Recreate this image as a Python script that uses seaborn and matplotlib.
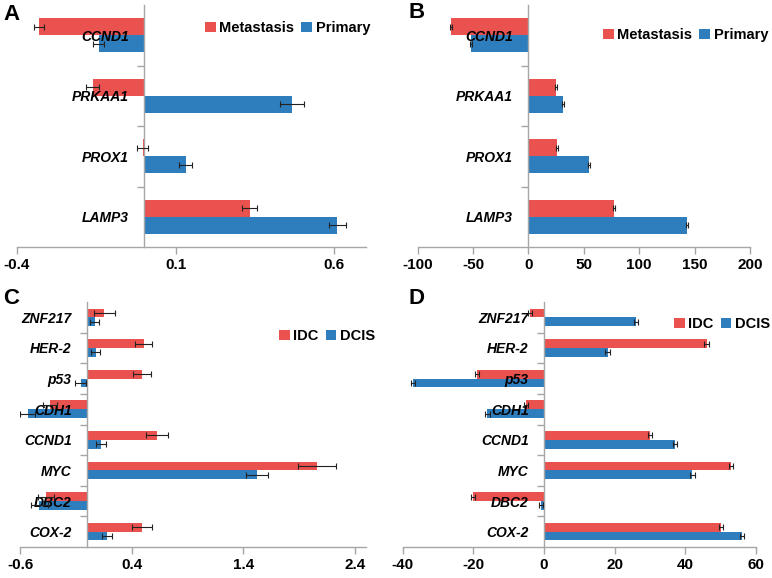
import pandas as pd
import seaborn as sns
import matplotlib.pyplot as plt
from matplotlib.ticker import FixedLocator

# ---- data ----
genes_ab = ['CCND1', 'PRKAA1', 'PROX1', 'LAMP3']
groups_ab = ['Metastasis', 'Primary']

a_met = [-0.33, -0.162, -0.004, 0.334]
a_met_err = [0.015, 0.019, 0.018, 0.024]
a_pri = [-0.142, 0.468, 0.132, 0.609]
a_pri_err = [0.017, 0.038, 0.020, 0.027]

b_met = [-70, 25, 26, 77]
b_met_err = [1.0, 1.0, 1.0, 1.0]
b_pri = [-52, 31, 55, 143]
b_pri_err = [1.0, 1.0, 1.0, 1.0]

genes_cd = ['ZNF217', 'HER-2', 'p53', 'CDH1', 'CCND1', 'MYC', 'DBC2', 'COX-2']
groups_cd = ['IDC', 'DCIS']

c_idc = [0.154, 0.507, 0.495, -0.331, 0.627, 2.058, -0.367, 0.495]
c_idc_err = [0.094, 0.078, 0.082, 0.06, 0.099, 0.171, 0.07, 0.088]
c_dcis = [0.07, 0.079, -0.056, -0.531, 0.127, 1.525, -0.427, 0.181]
c_dcis_err = [0.04, 0.04, 0.048, 0.067, 0.042, 0.097, 0.075, 0.045]

d_idc = [-4, 46, -19, -5, 30, 53, -20, 50]
d_idc_err = [0.6] * 8
d_dcis = [26, 18, -37, -16, 37, 42, -0.8, 56]
d_dcis_err = [0.6] * 8

RED = '#E9524F'
BLUE = '#2E7EBD'
GREY = '#A6A6A6'

sns.set_theme(style='white')
plt.rcParams['font.family'] = ['Liberation Sans', 'DejaVu Sans']
plt.rcParams['text.color'] = 'black'

W, H = 772, 578
fig = plt.figure(figsize=(W / 100, H / 100), dpi=100)


def px_axes(left, right, top, bottom):
    return fig.add_axes([left / W, 1 - bottom / H, (right - left) / W, (bottom - top) / H])


def panel(ax, genes, groups, v1, e1, v2, e2, xlim, xticks, ticklabels, legend_xy, letter_xy, letter):
    df = pd.DataFrame({
        'gene': genes * 2,
        'group': [groups[0]] * len(genes) + [groups[1]] * len(genes),
        'value': list(v1) + list(v2),
    })
    sns.barplot(data=df, x='value', y='gene', hue='group', hue_order=groups,
                order=genes, palette=[RED, BLUE], orient='h', width=0.57,
                errorbar=None, saturation=1, linewidth=0, ax=ax)

    # error bars at the bar ends
    for cont, errs in zip(ax.containers, [e1, e2]):
        ys = [b.get_y() + b.get_height() / 2 for b in cont]
        xs = [b.get_x() + b.get_width() for b in cont]
        ax.errorbar(xs, ys, xerr=errs, fmt='none', ecolor='#222222',
                    elinewidth=0.8, capsize=2, capthick=0.8, zorder=3)

    ax.set_axisbelow(False)  # gene names sit on top of the bars
    ax.set_xlim(*xlim)
    ax.set_ylim(len(genes) - 0.5, -0.5)
    ax.set_xticks(xticks)
    ax.set_xticklabels(ticklabels, fontsize=11, fontweight='bold')
    ax.set_xlabel('')
    ax.set_ylabel('')

    for s in ['top', 'right']:
        ax.spines[s].set_visible(False)
    ax.spines['left'].set_position(('data', 0))
    ax.spines['left'].set_color(GREY)
    ax.spines['bottom'].set_color(GREY)
    ax.spines['left'].set_linewidth(1)
    ax.spines['bottom'].set_linewidth(1)

    ax.yaxis.set_minor_locator(FixedLocator([i + 0.5 for i in range(len(genes) - 1)]))
    ax.tick_params(axis='y', which='major', length=0, pad=11, labelcolor='black')
    ax.tick_params(axis='y', which='minor', left=True, length=5, color=GREY, width=1)
    ax.tick_params(axis='x', length=5, color=GREY, width=1, pad=3, bottom=True,
                   labelcolor='black')
    for t in ax.get_yticklabels():
        t.set_fontsize(10)
        t.set_fontweight('bold')
        t.set_fontstyle('italic')

    handles, labels = ax.get_legend_handles_labels()
    ax.legend(handles, labels, loc='center left',
              bbox_to_anchor=(legend_xy[0] / W, 1 - legend_xy[1] / H),
              bbox_transform=fig.transFigure, ncol=2, frameon=False,
              borderpad=0, borderaxespad=0, handlelength=0.72, handleheight=0.72,
              handletextpad=0.25, columnspacing=0.5,
              prop={'weight': 'bold', 'size': 10.5})

    fig.text(letter_xy[0] / W, 1 - letter_xy[1] / H, letter, fontsize=16,
             fontweight='bold', va='top', ha='left')


axA = px_axes(17, 366, 5, 247)
panel(axA, genes_ab, groups_ab, a_met, a_met_err, a_pri, a_pri_err,
      (-0.4, 0.7), [-0.4, 0.1, 0.6], ['-0.4', '0.1', '0.6'],
      (205, 28), (3, 4), 'A')

axB = px_axes(417.7, 750, 5, 247)
panel(axB, genes_ab, groups_ab, b_met, b_met_err, b_pri, b_pri_err,
      (-100, 200), [-100, -50, 0, 50, 100, 150, 200],
      ['-100', '-50', '0', '50', '100', '150', '200'],
      (603, 35), (408, 2), 'B')

axC = px_axes(20, 366, 302, 547)
panel(axC, genes_cd, groups_cd, c_idc, c_idc_err, c_dcis, c_dcis_err,
      (-0.6, 2.5), [-0.6, 0.4, 1.4, 2.4], ['-0.6', '0.4', '1.4', '2.4'],
      (279, 336), (3, 288), 'C')

axD = px_axes(402.7, 756, 302, 547)
panel(axD, genes_cd, groups_cd, d_idc, d_idc_err, d_dcis, d_dcis_err,
      (-40, 60), [-40, -20, 0, 20, 40, 60],
      ['-40', '-20', '0', '20', '40', '60'],
      (674, 324), (408, 288), 'D')

fig.savefig('out.png', dpi=100)
plt.close(fig)
